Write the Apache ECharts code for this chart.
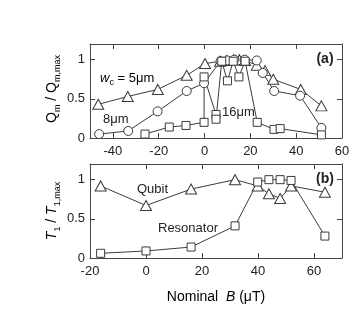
<!DOCTYPE html>
<html><head><meta charset="utf-8">
<script src="https://cdn.jsdelivr.net/npm/echarts@6/dist/echarts.min.js"></script>
<style>html,body{margin:0;padding:0;background:#fff}#c{width:360px;height:315px}</style>
</head><body><div id="c"></div>
<script>
// Panel (a): Q_m/Q_m,max vs nominal B
const w5 = [[-46.4,0.43],[-33.5,0.53],[-20.4,0.62],[-7.8,0.80],[0.2,0.95],[6.8,0.98],[9.5,0.99],[12.8,1.0],[15.2,1.0],[17.7,0.99],[22.8,0.93],[26.4,0.86],[30,0.75],[42,0.62],[51,0.41]];
const w8 = [[-46,0.05],[-33.3,0.09],[-20.5,0.34],[-7.8,0.60],[-0.2,0.70],[7,0.98],[10,0.99],[13,1.0],[17.5,1.0],[22.8,0.99],[25.4,0.83],[30.4,0.60],[41.7,0.54],[51,0.13]];
const w16 = [[-26,0.05],[-15.4,0.14],[-8.1,0.16],[-0.2,0.20],[-0.2,0.78],[5,0.30],[5,0.24],[7.5,0.98],[10,0.73],[12.5,0.98],[15,0.78],[17.7,0.98],[23,0.20],[30.3,0.11],[33,0.12],[51,0.04]];
// Panel (b): T_1/T_1,max vs nominal B
const qubit = [[-16.2,0.92],[0,0.67],[16.1,0.88],[31.8,1.0],[39.9,0.92],[43.9,0.82],[47.9,0.76],[51.8,0.92],[63.9,0.84]];
const resonator = [[-16.2,0.06],[0,0.09],[16.1,0.14],[31.8,0.41],[39.9,0.97],[43.9,1.0],[47.9,1.0],[51.8,0.99],[63.9,0.28]];
const xTicksA = [-40,-20,0,20,40,60];
const xTicksB = [-20,0,20,40,60];
const yTicks = [0,0.5,1];

const FONT = 'Liberation Sans';
const AX = '#444', TXT = '#222', LN = '#3a3a3a';
const chart = echarts.init(document.getElementById('c'), null, {renderer:'canvas'});

function xAx(gi, min, max, ticks, pos, labels){
  return {type:'value', gridIndex:gi, min:min, max:max, position:pos, splitLine:{show:false},
    axisLine:{show:true, onZero:false, lineStyle:{color:AX, width:1}},
    axisTick:{show:true, inside:true, length:5, customValues:ticks, lineStyle:{color:AX}},
    axisLabel:{show:labels, customValues:ticks, color:TXT, fontFamily:FONT, fontSize:13, margin:7}};
}
function yAx(gi, pos, labels){
  return {type:'value', gridIndex:gi, min:0, max:1.2, position:pos, splitLine:{show:false},
    axisLine:{show:true, onZero:false, lineStyle:{color:AX, width:1}},
    axisTick:{show:true, inside:true, length:5, customValues:yTicks, lineStyle:{color:AX}},
    axisLabel:{show:labels, customValues:yTicks, color:TXT, fontFamily:FONT, fontSize:13, margin:5}};
}
function ser(data, sym, size, xi, yi){
  return {type:'line', data:data, xAxisIndex:xi, yAxisIndex:yi, symbol:sym, symbolSize:size,
    showAllSymbol:true, animation:false, z:3,
    lineStyle:{color:LN, width:1}, itemStyle:{color:'#fff', borderColor:LN, borderWidth:1}};
}
const sub = {fontFamily:FONT, fontSize:9, color:TXT, verticalAlign:'bottom', lineHeight:9};
const main = {fontFamily:FONT, fontSize:14, color:TXT, lineHeight:20};
chart.setOption({
  animation:false,
  grid:[{left:90, top:44, width:252, height:94},{left:90, top:164, width:252, height:94}],
  xAxis:[xAx(0,-50,60,xTicksA,'bottom',true), xAx(0,-50,60,xTicksA,'top',false),
         xAx(1,-20,70,xTicksB,'bottom',true), xAx(1,-20,70,xTicksB,'top',false)],
  yAxis:[yAx(0,'left',true), yAx(0,'right',false), yAx(1,'left',true), yAx(1,'right',false)],
  series:[ser(w5,'triangle',[11,10],0,0), ser(w8,'circle',9,0,0), ser(w16,'rect',8,0,0),
          ser(qubit,'triangle',[11,10],2,2), ser(resonator,'rect',8,2,2)],
  graphic:[
    {type:'text', x:52, y:89, rotation:Math.PI/2, style:{text:'{a|Q}{s|m}{a| / Q}{s|m,max}', align:'center', verticalAlign:'middle', rich:{a:main, s:sub}}},
    {type:'text', x:52, y:211, rotation:Math.PI/2, style:{text:'{i|T}{s|1}{a| / }{i|T}{s|1,max}', align:'center', verticalAlign:'middle', rich:{a:main, i:Object.assign({},main,{fontStyle:'italic'}), s:sub}}},
    {type:'text', x:216, y:297, style:{text:'{a|Nominal  }{i|B}{a| (μT)}', align:'center', verticalAlign:'middle', rich:{a:{fontFamily:FONT,fontSize:14,color:TXT}, i:{fontFamily:FONT,fontSize:14,color:TXT,fontStyle:'italic'}}}},
    {type:'text', x:325, y:59, style:{text:'(a)', align:'center', verticalAlign:'middle', font:'bold 14px "Liberation Sans"', fill:TXT}},
    {type:'text', x:325, y:179, style:{text:'(b)', align:'center', verticalAlign:'middle', font:'bold 14px "Liberation Sans"', fill:TXT}},
    {type:'text', x:100, y:78, style:{text:'{i|w}{s|c}{a| = 5μm}', align:'left', verticalAlign:'middle', rich:{a:{fontFamily:FONT,fontSize:13,color:TXT,lineHeight:18}, i:{fontFamily:FONT,fontSize:13,color:TXT,fontStyle:'italic',lineHeight:18}, s:{fontFamily:FONT,fontSize:9,color:TXT,verticalAlign:'bottom',lineHeight:9}}}},
    {type:'text', x:103, y:119, style:{text:'8μm', align:'left', verticalAlign:'middle', font:'13px "Liberation Sans"', fill:TXT}},
    {type:'text', x:222, y:112, style:{text:'16μm', align:'left', verticalAlign:'middle', font:'13px "Liberation Sans"', fill:TXT}},
    {type:'text', x:137, y:189, style:{text:'Qubit', align:'left', verticalAlign:'middle', font:'13px "Liberation Sans"', fill:TXT}},
    {type:'text', x:158, y:228, style:{text:'Resonator', align:'left', verticalAlign:'middle', font:'13px "Liberation Sans"', fill:TXT}}
  ]
});
</script></body></html>
